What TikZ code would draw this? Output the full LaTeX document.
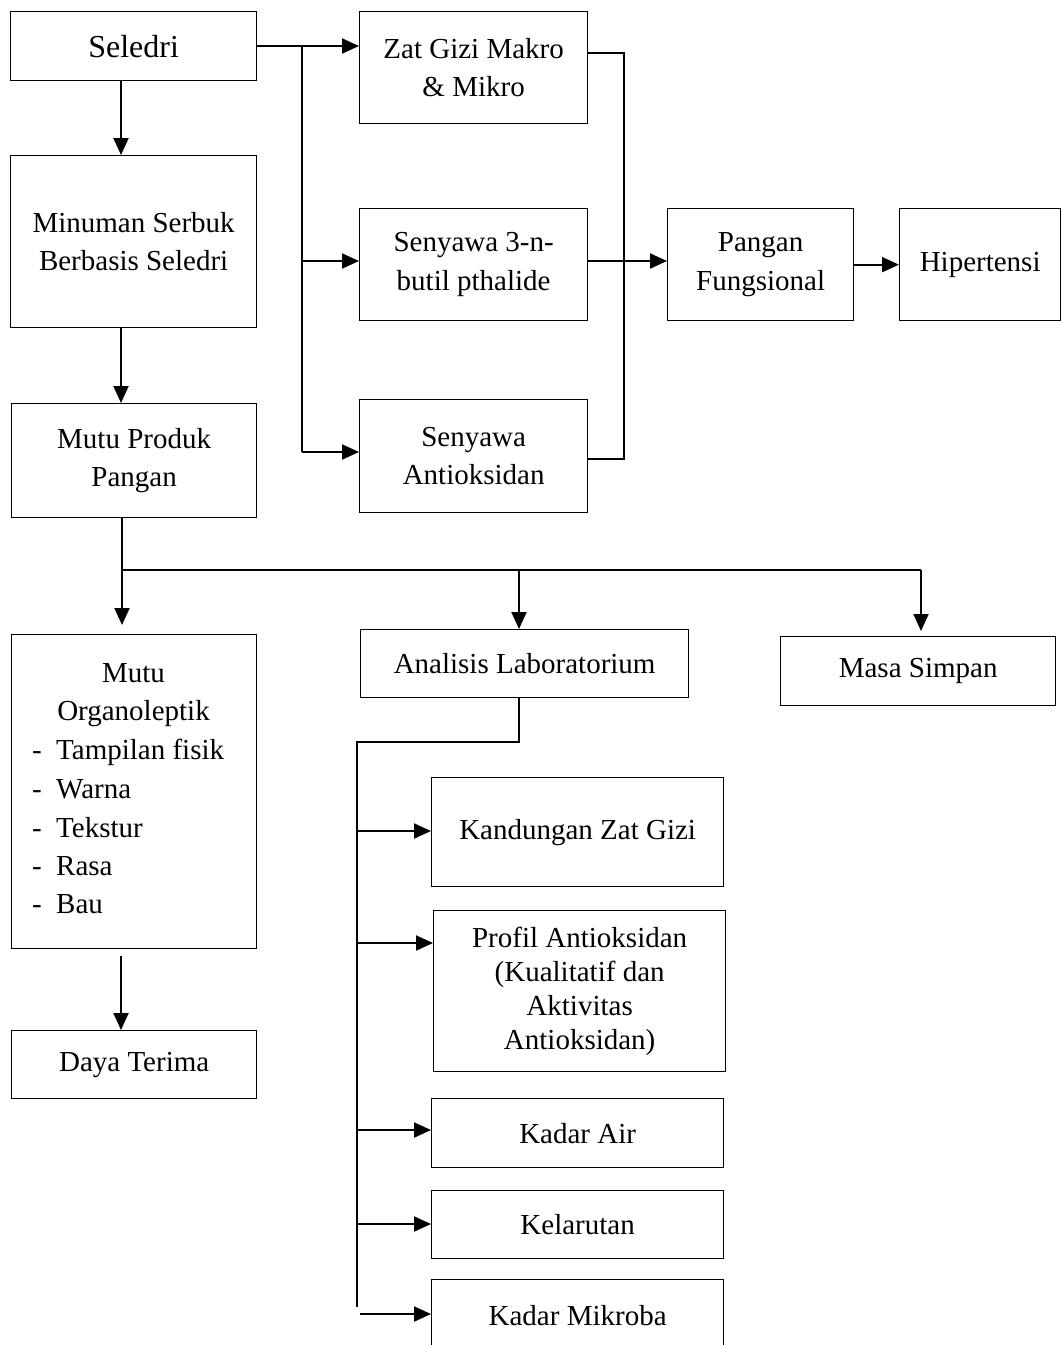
\documentclass[tikz,border=0pt]{standalone}
\usepackage{fontspec}
\setmainfont{Liberation Serif}
\usetikzlibrary{arrows.meta}
\begin{document}
\begin{tikzpicture}[x=1pt,y=-1pt,
  box/.style={draw, line width=1.3pt, inner sep=0pt, anchor=north west, align=center,
    font=\fontsize{29}{38.5}\selectfont},
  txt/.style={inner sep=0pt, font=\fontsize{29}{38.5}\selectfont},
  conn/.style={line width=2pt},
  arr/.style={conn, -{Triangle[length=17pt,width=15pt]}}]
\useasboundingbox (0,0) rectangle (1061,1345);
\clip (0,0) rectangle (1061,1345);
% boxes
\node[box, minimum width=246pt, minimum height=69pt, font=\fontsize{32}{38.5}\selectfont]  (sel) at (10,11)  {Seledri};
\node[box, minimum width=228pt, minimum height=112pt] (zat) at (359,11) {Zat Gizi Makro\\\& Mikro};
\node[box, minimum width=246pt, minimum height=172pt] (min) at (10,155) {Minuman Serbuk\\Berbasis Seledri};
\node[box, minimum width=228pt, minimum height=112pt] (s3n) at (359,208) {Senyawa 3-n-\\butil pthalide};
\node[box, minimum width=186pt, minimum height=112pt] (pf)  at (667,208) {Pangan\\Fungsional};
\node[box, minimum width=161pt, minimum height=112pt] (hip) at (899,208) {Hipertensi};
\node[box, minimum width=245pt, minimum height=114pt] (mpp) at (11,403) {Mutu Produk\\Pangan};
\node[box, minimum width=228pt, minimum height=113pt] (sa)  at (359,399) {Senyawa\\Antioksidan};
\node[box, minimum width=245pt, minimum height=314pt] (org) at (11,634) {};
\node[box, minimum width=328pt, minimum height=68pt]  (al)  at (360,629) {Analisis Laboratorium};
\node[box, minimum width=275pt, minimum height=69pt]  (ms)  at (780,636) {Masa Simpan};
\node[box, minimum width=245pt, minimum height=68pt]  (dt)  at (11,1030) {Daya Terima};
\node[box, minimum width=292pt, minimum height=109pt] (kz)  at (431,777) {Kandungan Zat Gizi};
\node[box, minimum width=292pt, minimum height=161pt, font=\fontsize{29}{34}\selectfont] (pa) at (433,910)
  {Profil Antioksidan\\(Kualitatif dan\\Aktivitas\\Antioksidan)};
\node[box, minimum width=292pt, minimum height=69pt]  (ka)  at (431,1098) {Kadar Air};
\node[box, minimum width=292pt, minimum height=68pt]  (kl)  at (431,1190) {Kelarutan};
\node[box, minimum width=292pt, minimum height=72pt]  (km)  at (431,1279) {Kadar Mikroba};
% organoleptik text
\node[txt, anchor=base] (o1) at (133.5,682) {Mutu};
\node[txt, anchor=base] (o2) at (133.5,720) {Organoleptik};
\node[txt, anchor=base west] (o3) at (32,759) {\makebox[24pt][l]{-}Tampilan fisik};
\node[txt, anchor=base west] (o4) at (32,798) {\makebox[24pt][l]{-}Warna};
\node[txt, anchor=base west] (o5) at (32,837) {\makebox[24pt][l]{-}Tekstur};
\node[txt, anchor=base west] (o6) at (32,875) {\makebox[24pt][l]{-}Rasa};
\node[txt, anchor=base west] (o7) at (32,913) {\makebox[24pt][l]{-}Bau};
% junction coordinates
\coordinate (xa) at (121,0);
\coordinate (t1) at (302,46);
\coordinate (t2) at (302,261);
\coordinate (t3) at (302,452);
\coordinate (r1) at (624,53);
\coordinate (r2) at (624,459);
\coordinate (h1) at (122,570);
\coordinate (h2) at (519,570);
\coordinate (h3) at (921,570);
\coordinate (a1) at (519,742);
\coordinate (a2) at (357,742);
\coordinate (b1) at (357,831);
\coordinate (b2) at (357,943);
\coordinate (b3) at (357,1130);
\coordinate (b4) at (357,1224);
\coordinate (b5) at (357,1307);
\coordinate (b6) at (360,1314);
% connectors top
\draw[arr] (sel.east |- t1) -- (zat.west |- t1);
\draw[conn] (t1) -- (t3);
\draw[arr] (t2) -- (s3n.west |- t2);
\draw[arr] (t3) -- (sa.west |- t3);
\draw[conn] (zat.east |- r1) -- (r1) -- (r2) -- (sa.east |- r2);
\draw[arr] (s3n.east |- t2) -- (pf.west |- t2);
\draw[arr] (pf.east) -- (hip.west);
\draw[arr] (sel.south -| xa) -- (min.north -| xa);
\draw[arr] (min.south -| xa) -- (mpp.north -| xa);
% middle
\draw[arr, shorten >=9pt] (mpp.south -| h1) -- (org.north -| h1);
\draw[conn] (h1) -- (h3);
\draw[arr] (h2) -- (al.north -| h2);
\draw[arr, shorten >=5pt] (h3) -- (ms.north -| h3);
\draw[arr, shorten <=7pt] (org.south -| xa) -- (dt.north -| xa);
% lab branch
\draw[conn] (al.south -| a1) -- (a1) -- (a2) -- (b5);
\draw[arr] (b1) -- (kz.west |- b1);
\draw[arr] (b2) -- (pa.west |- b2);
\draw[arr] (b3) -- (ka.west |- b3);
\draw[arr] (b4) -- (kl.west |- b4);
\draw[arr] (b6) -- (km.west |- b6);
\end{tikzpicture}
\end{document}
